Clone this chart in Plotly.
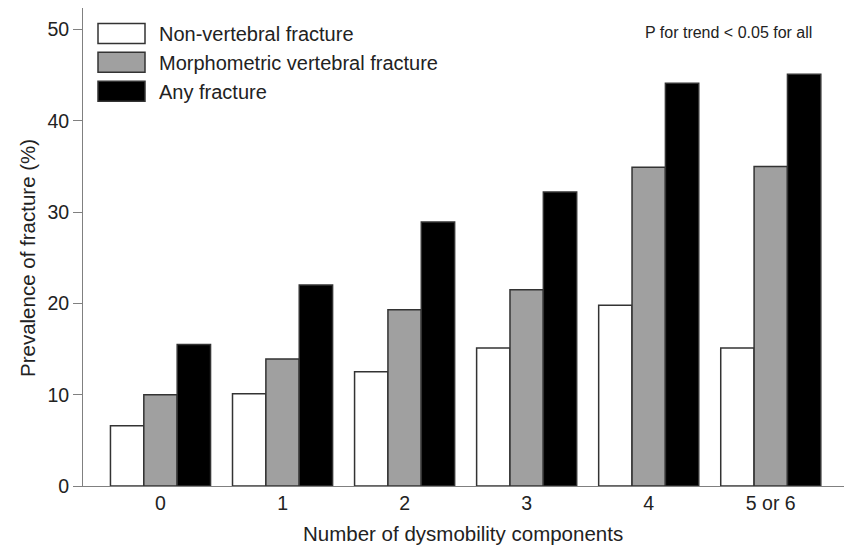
import plotly.graph_objects as go

categories = ["0", "1", "2", "3", "4", "5 or 6"]
series_names = ["Non-vertebral fracture", "Morphometric vertebral fracture", "Any fracture"]
non_vertebral = [6.6, 10.1, 12.5, 15.1, 19.8, 15.1]
vertebral = [10.0, 13.9, 19.3, 21.5, 34.9, 35.0]
any_fracture = [15.5, 22.0, 28.9, 32.2, 44.1, 45.1]
y_ticks = [0, 10, 20, 30, 40, 50]

fills = ["#ffffff", "#a0a0a0", "#000000"]
values = [non_vertebral, vertebral, any_fracture]

W, H = 847, 547
L, R, T, B = 83, 3, 8, 61
PW, PH = W - L - R, H - T - B

def px_x(px):
    return (px - L) / PW

def px_y(py):
    return (H - B - py) / PH

fig = go.Figure()
for name, vals, col in zip(series_names, values, fills):
    fig.add_trace(go.Bar(
        x=list(range(len(categories))), y=vals, name=name,
        marker=dict(color=col, line=dict(color="#333333", width=1.5)),
        showlegend=False,
    ))

font = "Liberation Sans, Arial, sans-serif"
shapes = []
annotations = []
rows = [33.5, 62.2, 91.2]
for name, col, cy in zip(series_names, fills, rows):
    shapes.append(dict(type="rect", xref="paper", yref="paper",
                       x0=px_x(98), x1=px_x(145), y0=px_y(cy + 10), y1=px_y(cy - 10),
                       fillcolor=col, line=dict(color="#333333", width=1.5)))
    annotations.append(dict(xref="paper", yref="paper", x=px_x(157), y=px_y(cy + 1),
                            xanchor="left", yanchor="middle", showarrow=False,
                            text=name, font=dict(family=font, size=20, color="#222222")))

annotations.append(dict(xref="paper", yref="paper", x=px_x(728), y=px_y(32),
                        xanchor="center", yanchor="middle", showarrow=False,
                        text="P for trend &lt; 0.05 for all",
                        font=dict(family=font, size=16, color="#222222")))
annotations.append(dict(xref="paper", yref="paper", x=0, y=px_y(258),
                        xanchor="center", yanchor="middle", xshift=-56, showarrow=False,
                        textangle=-90, text="Prevalence of fracture (%)",
                        font=dict(family=font, size=20.5, color="#222222")))
annotations.append(dict(xref="paper", yref="paper", x=px_x(463), y=px_y(533),
                        xanchor="center", yanchor="middle", showarrow=False,
                        text="Number of dysmobility components",
                        font=dict(family=font, size=20.5, color="#222222")))

fig.update_layout(
    width=W, height=H,
    margin=dict(l=L, r=R, t=T, b=B, pad=0, autoexpand=False),
    paper_bgcolor="white", plot_bgcolor="white",
    barmode="group", bargap=0.18, bargroupgap=0,
    font=dict(family=font, size=19, color="#222222"),
    shapes=shapes, annotations=annotations,
    showlegend=False,
)
fig.update_xaxes(
    tickmode="array", tickvals=list(range(len(categories))), ticktext=categories,
    range=[-0.635, 5.6], showline=True, linecolor="#808080", linewidth=1,
    ticks="", showgrid=False, zeroline=False, automargin=False,
    tickfont=dict(family=font, size=19.5, color="#222222"),
)
fig.update_yaxes(
    tickmode="array", tickvals=y_ticks, range=[0, 52.35],
    showline=True, linecolor="#808080", linewidth=1,
    ticks="outside", ticklen=9, tickcolor="#808080", tickwidth=1,
    showgrid=False, zeroline=False, automargin=False,
    tickfont=dict(family=font, size=19.5, color="#222222"),
)
fig.write_html("out.html", config={"displayModeBar": False},
               post_script="document.body.style.margin='0';document.body.style.overflow='hidden';")
